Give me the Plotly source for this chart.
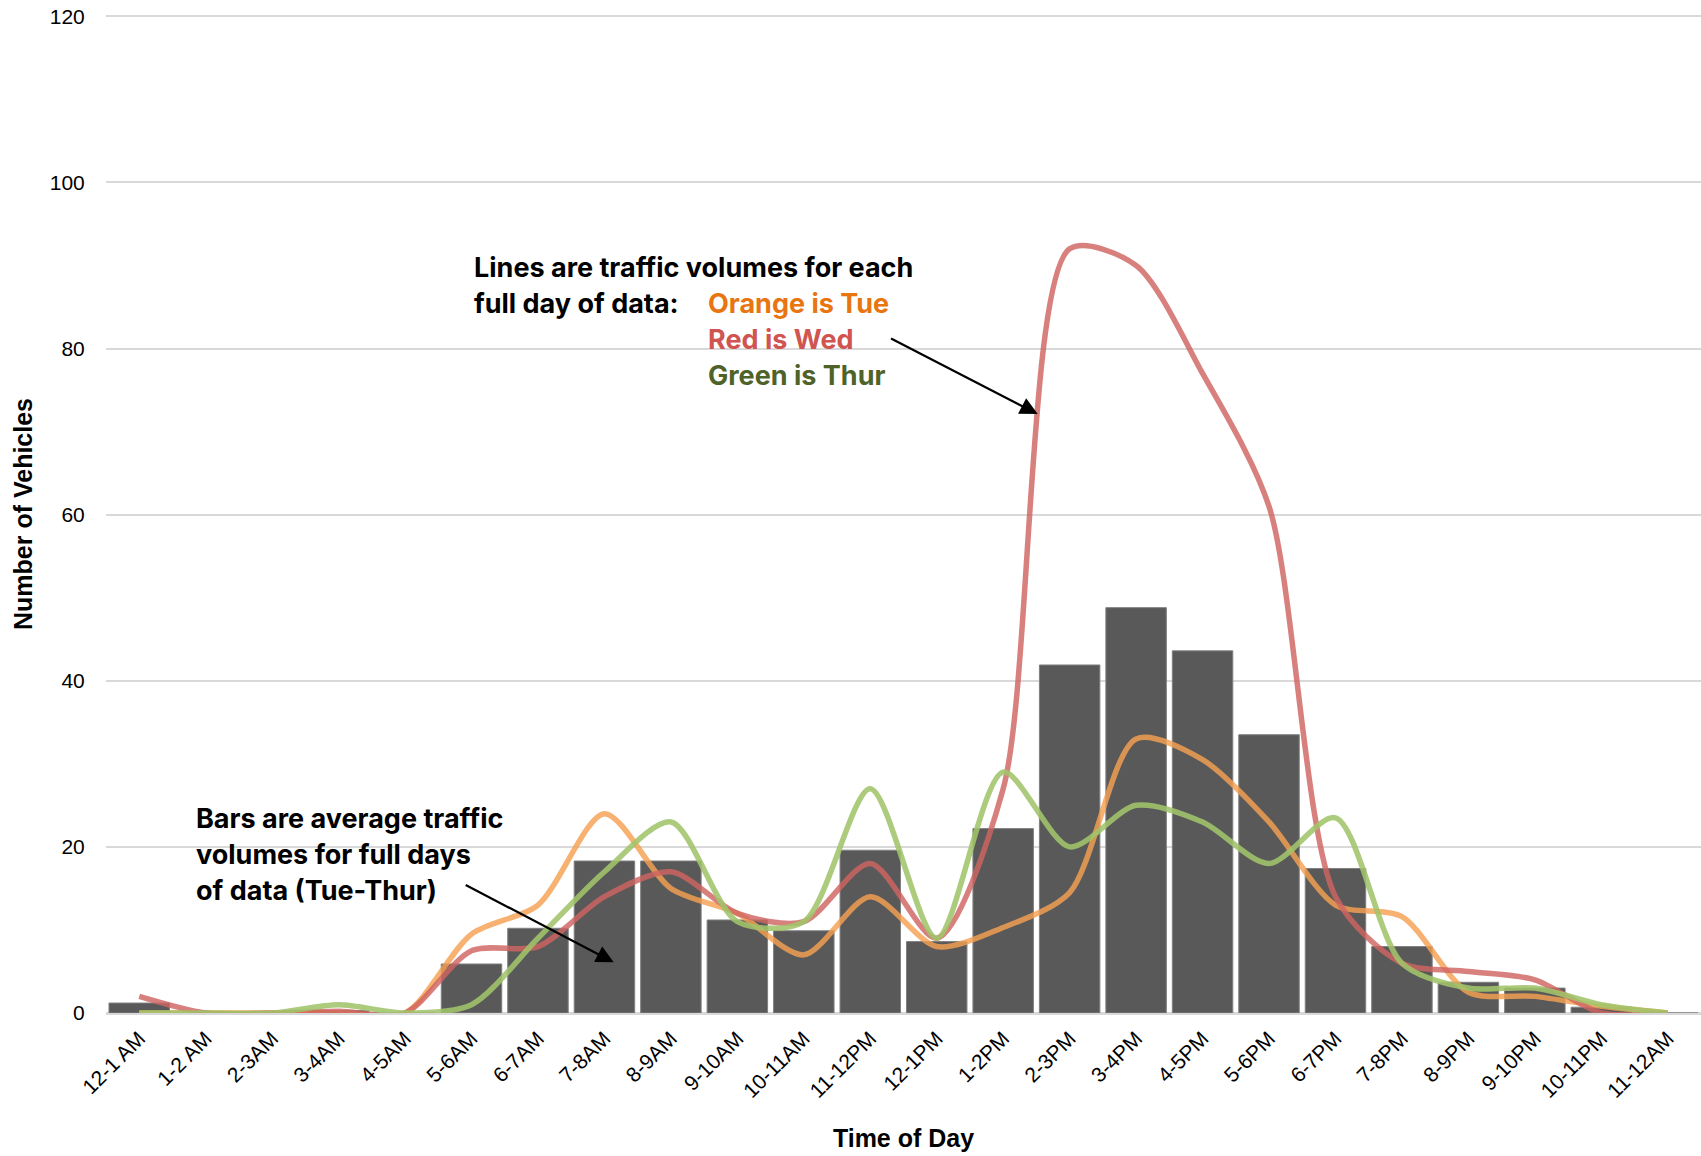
import plotly.graph_objects as go

categories = ["12-1 AM", "1-2 AM", "2-3AM", "3-4AM", "4-5AM", "5-6AM", "6-7AM", "7-8AM",
              "8-9AM", "9-10AM", "10-11AM", "11-12PM", "12-1PM", "1-2PM", "2-3PM", "3-4PM",
              "4-5PM", "5-6PM", "6-7PM", "7-8PM", "8-9PM", "9-10PM", "10-11PM", "11-12AM"]

avg_values = [1.2, 0, 0, 0.3, 0, 5.9, 10.2, 18.3, 18.3, 11.2, 9.9, 19.6,
              8.6, 22.2, 41.9, 48.8, 43.6, 33.5, 17.4, 8.0, 3.7, 3.0, 0.7, 0]

tue_values = [0, 0, 0, 0, 0, 9.5, 13, 24, 15, 12, 7, 14,
              8, 10.3, 14.5, 33, 30.5, 23, 13, 11.6, 2.5, 2, 0.8, 0]
wed_values = [2, 0, 0, 0.2, 0, 7.5, 8, 14, 17, 12, 11, 18,
              9, 27, 92, 90, 77, 61, 14, 6, 5, 4, 0, 0]
thu_values = [0, 0, 0, 1, 0, 1, 9, 17, 23, 11, 11, 27,
              9, 29, 20, 25, 23, 18, 23.5, 6, 3, 3, 1, 0]

y_ticks = [0, 20, 40, 60, 80, 100, 120]

xi = list(range(len(categories)))

fig = go.Figure()
fig.add_trace(go.Bar(
    x=xi, y=avg_values, marker=dict(color="#595959", line=dict(color="#808080", width=1)),
    width=0.91, showlegend=False))

for vals, col in [(tue_values, "rgba(245,160,80,0.82)"),
                  (wed_values, "rgba(208,100,96,0.82)"),
                  (thu_values, "rgba(160,196,106,0.88)")]:
    fig.add_trace(go.Scatter(x=xi, y=vals, mode="lines",
                             line=dict(color=col, width=5.5, shape="spline", smoothing=0.8),
                             showlegend=False))

ann_font = "Inter, 'Noto Sans', sans-serif"
anns = []
def txt(x, y, s, color="#000000"):
    anns.append(dict(x=x, y=y, xref="x", yref="y", text="<b>" + s + "</b>", showarrow=False,
                     xanchor="left", yanchor="middle",
                     font=dict(family=ann_font, size=27, color=color)))

txt(5.0, 89.7, "Lines are traffic volumes for each")
txt(5.0, 85.4, "full day of data:")
txt(8.53, 85.4, "Orange is Tue", "#E8750F")
txt(8.53, 81.1, "Red is Wed", "#D05450")
txt(8.53, 76.8, "Green is Thur", "#4F6228")
txt(0.82, 23.4, "Bars are average traffic")
txt(0.82, 19.1, "volumes for full days")
txt(0.82, 14.8, "of data (Tue-Thur)")

anns.append(dict(x=7.14, y=6.1, ax=4.89, ay=15.5, xref="x", yref="y", axref="x", ayref="y",
                 text="", showarrow=True, arrowhead=2, arrowsize=1.6, arrowwidth=2.2,
                 arrowcolor="#000000"))
anns.append(dict(x=13.52, y=72.1, ax=11.29, ay=81.3, xref="x", yref="y", axref="x", ayref="y",
                 text="", showarrow=True, arrowhead=2, arrowsize=1.6, arrowwidth=2.2,
                 arrowcolor="#000000"))

fig.update_layout(
    width=1701, height=1156,
    margin=dict(l=106, r=0, t=15, b=143),
    paper_bgcolor="white", plot_bgcolor="white",
    font=dict(family="'Liberation Sans', Arial, sans-serif", color="#000000"),
    annotations=anns,
    bargap=0.09,
    xaxis=dict(
        range=[-0.5, 23.5], tickmode="array", tickvals=xi, ticktext=categories,
        tickangle=-45, tickfont=dict(size=21, color="#000000"), showgrid=False,
        showline=False, zeroline=False, automargin=False, ticks="outside", ticklen=4,
        tickcolor="rgba(0,0,0,0)",
        title=dict(text="<b>Time of Day</b>", font=dict(size=25, color="#000000"), standoff=28)),
    yaxis=dict(
        range=[0, 120.15], tickvals=y_ticks, tickfont=dict(size=21, color="#000000"),
        showgrid=True, gridcolor="#d9d9d9", gridwidth=1.5, zeroline=True,
        zerolinecolor="#d9d9d9", zerolinewidth=2.5, showline=False, automargin=False,
        ticks="outside", ticklen=16, tickcolor="rgba(0,0,0,0)",
        title=dict(text="<b>Number of Vehicles</b>", font=dict(size=25, color="#000000"), standoff=10)),
)

fig.write_html("out.html", config={"displayModeBar": False},
               post_script="document.body.style.margin='0';document.body.style.overflow='hidden';")
